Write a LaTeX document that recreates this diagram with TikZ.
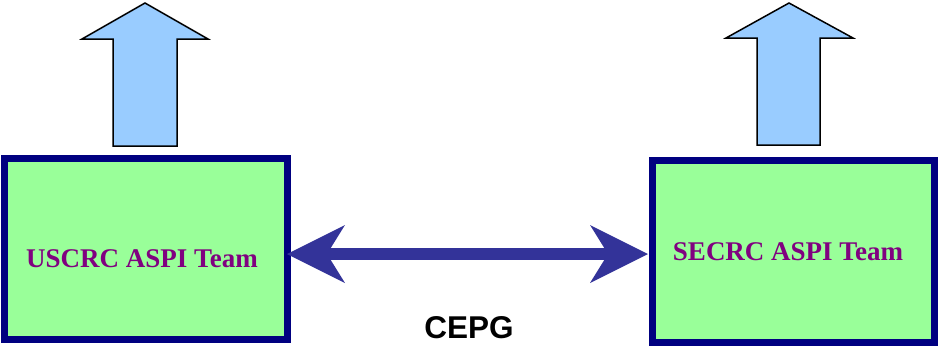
\documentclass[tikz,border=0pt]{standalone}
\usepackage{fontspec}
\setmainfont{Liberation Serif}
\newfontfamily\arialfont{Liberation Sans}
\usetikzlibrary{arrows.meta}
\definecolor{boxblue}{HTML}{000080}
\definecolor{boxgreen}{HTML}{99FF99}
\definecolor{teamtxt}{HTML}{800080}
\definecolor{linkblue}{HTML}{333399}
\definecolor{uparrow}{HTML}{99CCFF}
\tikzset{
  teambox/.style={draw=boxblue, fill=boxgreen, line width=7pt, inner sep=0pt},
  teamlabel/.style={text=teamtxt, font=\fontsize{27}{30}\selectfont\bfseries, anchor=base, inner sep=0pt},
  outarrow/.style={draw=black, fill=uparrow, line width=1.5pt, line join=miter},
  linkarrow/.style={draw=linkblue, line width=12pt,
    {Stealth[length=58pt,width=58pt,inset=18pt,line width=0pt 0]}-{Stealth[length=58pt,width=58pt,inset=18pt,line width=0pt 0]}},
  caption/.style={font=\arialfont\fontsize{31.5}{34}\selectfont\bfseries, anchor=base, inner sep=0pt}
}
\begin{document}
\begin{tikzpicture}[x=1pt, y=-1pt]
\useasboundingbox (0,0) rectangle (938,346);
% boxes
\node[teambox, minimum width=283pt, minimum height=181pt] (usbox) at (146,249) {};
\node[teambox, minimum width=282pt, minimum height=182pt] (sebox) at (793.5,251.5) {};
% labels
\node[teamlabel] (ustext) at (142,267) {USCRC ASPI Team};
\node[teamlabel] (setext) at (788,260) {SECRC ASPI Team};
% up arrows
\draw[outarrow] (145,3) -- (208,39) -- (177,39) -- (177,146) -- (113,146) -- (113,39) -- (82,39) -- cycle;
\draw[outarrow] (789,3) -- (853,38) -- (820,38) -- (820,145) -- (757,145) -- (757,38) -- (726,38) -- cycle;
% link
\draw[linkarrow, shorten <=-4pt, shorten >=1pt] ([yshift=-5pt]usbox.east) -- ([yshift=-2.5pt]sebox.west);
\node[caption] (cepg) at (469,338) {CEPG};
\end{tikzpicture}
\end{document}
